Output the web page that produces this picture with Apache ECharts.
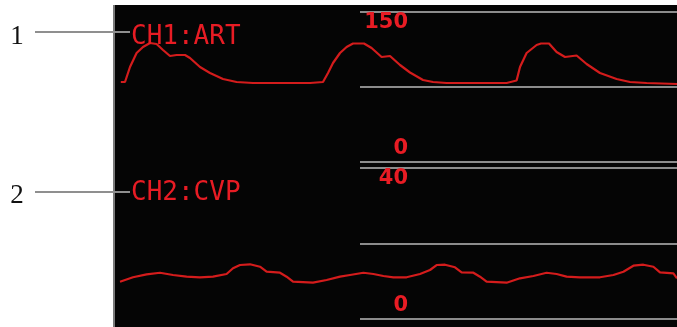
<!DOCTYPE html>
<html><head><meta charset="utf-8">
<script src="https://cdn.jsdelivr.net/npm/echarts@6/dist/echarts.min.js"></script>
<style>html,body{margin:0;padding:0;background:#fff}#c{width:677px;height:327px}</style>
</head><body><div id="c"></div>
<script>
// Time in seconds, pressure in mmHg
const artTime = [0.029,0.05,0.075,0.108,0.14,0.175,0.208,0.24,0.275,0.308,0.35,0.375,0.425,0.475,0.54,0.608,0.69,0.975,1.04,1.065,1.09,1.125,1.158,1.19,1.245,1.283,1.333,1.375,1.425,1.475,1.54,1.59,1.658,1.958,2.008,2.025,2.058,2.108,2.13,2.17,2.208,2.25,2.308,2.358,2.425,2.508,2.575,2.658,2.81];
const artValues = [80,80,95,109,115,119,118,112,106,107,107,104,95,89,83,80,79,79,80,89,99,109,115,118.5,118.5,114,105,106,97,89.5,82,80,79,79,81.5,95,109,117,118.5,118.5,110,105,106.5,98,89,83,80,79,78];
const cvpTime = [0.025,0.09,0.158,0.225,0.29,0.358,0.425,0.49,0.558,0.59,0.625,0.675,0.725,0.758,0.825,0.858,0.89,0.99,1.058,1.125,1.175,1.242,1.292,1.342,1.392,1.458,1.525,1.575,1.608,1.65,1.7,1.733,1.792,1.825,1.858,1.958,2.025,2.092,2.158,2.208,2.258,2.325,2.425,2.492,2.542,2.592,2.642,2.692,2.725,2.792,2.81];
const cvpValues = [9.88,11.05,11.84,12.26,11.66,11.21,11.05,11.21,11.92,13.43,14.3,14.49,13.85,12.53,12.26,11.21,9.88,9.62,10.33,11.21,11.66,12.26,11.92,11.39,11.05,11.05,11.92,12.98,14.3,14.38,13.7,12.37,12.26,11.21,9.88,9.62,10.78,11.39,12.26,11.92,11.21,11.05,11.05,11.66,12.53,14.12,14.38,13.85,12.37,12.11,10.78];
const artTicks = [150, 0];
const cvpTicks = [40, 0];
const channelNames = ['CH1:ART', 'CH2:CVP'];
const calloutLabels = ['1', '2'];

const RED = '#e81c24';
const WAVE = '#d41c1c';
const GRAY = '#8c8c8c';

const zip = (t, v) => t.map((x, i) => [x, v[i]]);
const chart = echarts.init(document.getElementById('c'), null, {renderer: 'canvas'});

const hiddenX = (min, max) => ({type: 'value', min, max, show: false});
const option = {
  animation: false,
  backgroundColor: '#ffffff',
  grid: [
    {left: 115, right: 0, top: 12, height: 150},
    {left: 360, right: 0, top: 12, height: 150},
    {left: 115, right: 0, top: 168, height: 151},
    {left: 360, right: 0, top: 168, height: 151}
  ],
  xAxis: [
    Object.assign(hiddenX(0, 2.81), {gridIndex: 0}),
    Object.assign(hiddenX(0, 1), {gridIndex: 1}),
    Object.assign(hiddenX(0, 2.81), {gridIndex: 2}),
    Object.assign(hiddenX(0, 1), {gridIndex: 3})
  ],
  yAxis: [
    {type: 'value', gridIndex: 0, min: 0, max: 150, show: false},
    {type: 'value', gridIndex: 1, min: 0, max: 150, interval: 75,
     axisLine: {show: false}, axisTick: {show: false}, axisLabel: {show: false},
     splitLine: {show: true, lineStyle: {color: GRAY, width: 2}}},
    {type: 'value', gridIndex: 2, min: 0, max: 40, show: false},
    {type: 'value', gridIndex: 3, min: 0, max: 40, interval: 20,
     axisLine: {show: false}, axisTick: {show: false}, axisLabel: {show: false},
     splitLine: {show: true, lineStyle: {color: GRAY, width: 2}}}
  ],
  series: [
    {type: 'line', name: 'ART', xAxisIndex: 0, yAxisIndex: 0, data: zip(artTime, artValues),
     showSymbol: false, z: 5, lineStyle: {color: WAVE, width: 2.2}},
    {type: 'line', name: 'CVP', xAxisIndex: 2, yAxisIndex: 2, data: zip(cvpTime, cvpValues),
     showSymbol: false, z: 5, lineStyle: {color: WAVE, width: 2.2}}
  ]
};
chart.setOption(option);

const g = [];
g.push({type: 'rect', z: -10, shape: {x: 115, y: 5, width: 562, height: 322}, style: {fill: '#050505'}});
g.push({type: 'line', z: -5, shape: {x1: 114, y1: 5, x2: 114, y2: 327}, style: {stroke: '#7a7a7a', lineWidth: 2}});
// channel labels + callouts
const chanY = [37.5, 193.5];
const leadY = [32, 192];
const callY = [36.5, 196];
channelNames.forEach((n, i) => {
  g.push({type: 'text', z: 10, style: {text: n, x: 131, y: chanY[i], fill: RED,
    font: '26px "DejaVu Sans Mono"', textAlign: 'left', textVerticalAlign: 'middle'}});
  g.push({type: 'line', z: 10, shape: {x1: 35, y1: leadY[i], x2: 130, y2: leadY[i]},
    style: {stroke: '#8f8f8f', lineWidth: 2}});
  g.push({type: 'text', z: 10, style: {text: calloutLabels[i], x: 17, y: callY[i], fill: '#111',
    font: '27px "Liberation Serif"', textAlign: 'center', textVerticalAlign: 'middle'}});
});
// scale labels placed via the axes
const addScale = (ticks, axisIdx) => {
  ticks.forEach((v, k) => {
    const py = chart.convertToPixel({yAxisIndex: axisIdx}, v);
    const top = k === 0;
    g.push({type: 'text', z: 10, style: {text: String(v), x: 408, y: top ? py + 10.5 : py - 13.5,
      fill: RED, font: 'bold 21px "DejaVu Sans"', textAlign: 'right', textVerticalAlign: 'middle'}});
  });
};
addScale(artTicks, 1);
addScale(cvpTicks, 3);
chart.setOption({graphic: {elements: g}});
</script></body></html>
